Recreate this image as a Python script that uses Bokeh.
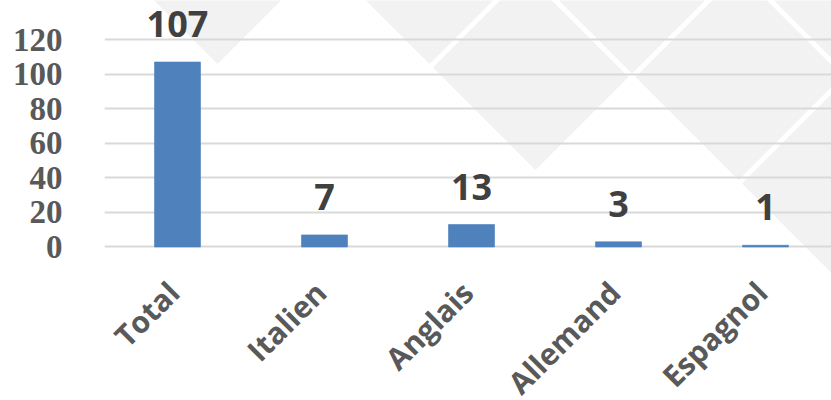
import math
from bokeh.plotting import figure
from bokeh.models import Range1d, FixedTicker, ColumnDataSource
from bokeh.core.properties import value
from bokeh.embed import file_html
from bokeh.resources import INLINE

# ---- data ----
categories = ["Total", "Italien", "Anglais", "Allemand", "Espagnol"]
counts = [107, 7, 13, 3, 1]
y_ticks = [0, 20, 40, 60, 80, 100, 120]

# ---- background watermark: diamond lattice (u = x - y, v = x + y, page px) ----
u_lines = [150, 362, 555, 770, 983]
v_lines = [-142, 71, 284, 496, 708, 921, 1134]
gray_cells = [(0, 1), (1, 2), (1, 3), (2, 3), (2, 4), (3, 4), (2, 5)]  # (u index, v index)
gap = 3.5
wx, wy = [], []
for ui, vi in gray_cells:
    u0, u1 = u_lines[ui] + gap, u_lines[ui + 1] - gap
    v0, v1 = v_lines[vi] + gap, v_lines[vi + 1] - gap
    pts = [(u0, v0), (u1, v0), (u1, v1), (u0, v1)]
    wx.append([(u + v) / 2 for u, v in pts])
    wy.append([(v - u) / 2 for u, v in pts])

x = list(range(len(categories)))
src = ColumnDataSource(dict(x=x, top=counts, label=[str(c) for c in counts],
                            base=[0] * len(x), cat=categories))

W, H = 831, 400
p = figure(width=W, height=H, output_backend="svg", toolbar_location=None,
           x_range=Range1d(-0.4966, 4.449), y_range=Range1d(-88.78, 142.56),
           min_border_left=104, min_border_right=0, min_border_top=0,
           min_border_bottom=0)
p.extra_x_ranges = {"px": Range1d(104, W)}
p.extra_y_ranges = {"px": Range1d(H, 0)}

p.patches(wx, wy, x_range_name="px", y_range_name="px", fill_color="#f2f2f2",
          line_color=None, level="image")

p.vbar(x="x", top="top", bottom=0, width=0.313, source=src,
       fill_color="#4f81bd", line_color="#4f81bd", line_alpha=0.6)
p.text(x="x", y="top", text="label", source=src, y_offset=-38,
       text_align="center", text_baseline="alphabetic",
       text_font=value("Open Sans"), text_font_style="bold",
       text_font_size="36px", text_color="#404040")

# category labels (rotated), anchored under each bar
p.text(x="x", y="base", text="cat", source=src, angle=math.pi / 4,
       x_offset=-4, y_offset=40, text_align="right", text_baseline="middle",
       text_font=value("Open Sans"), text_font_style="bold",
       text_font_size="30px", text_color="#595959")

p.outline_line_color = None
p.background_fill_color = "white"
p.border_fill_color = "white"

p.xaxis.visible = False
p.xgrid.visible = False
p.ygrid.grid_line_color = "#d9d9d9"
p.ygrid.grid_line_width = 2
p.ygrid.ticker = FixedTicker(ticks=y_ticks)

yax = p.yaxis[0]
yax.ticker = FixedTicker(ticks=y_ticks)
yax.axis_line_color = None
yax.major_tick_line_color = None
yax.minor_tick_line_color = None
yax.major_label_standoff = 36
yax.major_label_text_font = "Liberation Serif"
yax.major_label_text_font_style = "bold"
yax.major_label_text_font_size = "33px"
yax.major_label_text_color = "#595959"

open("out.html", "w").write(file_html(p, INLINE))
